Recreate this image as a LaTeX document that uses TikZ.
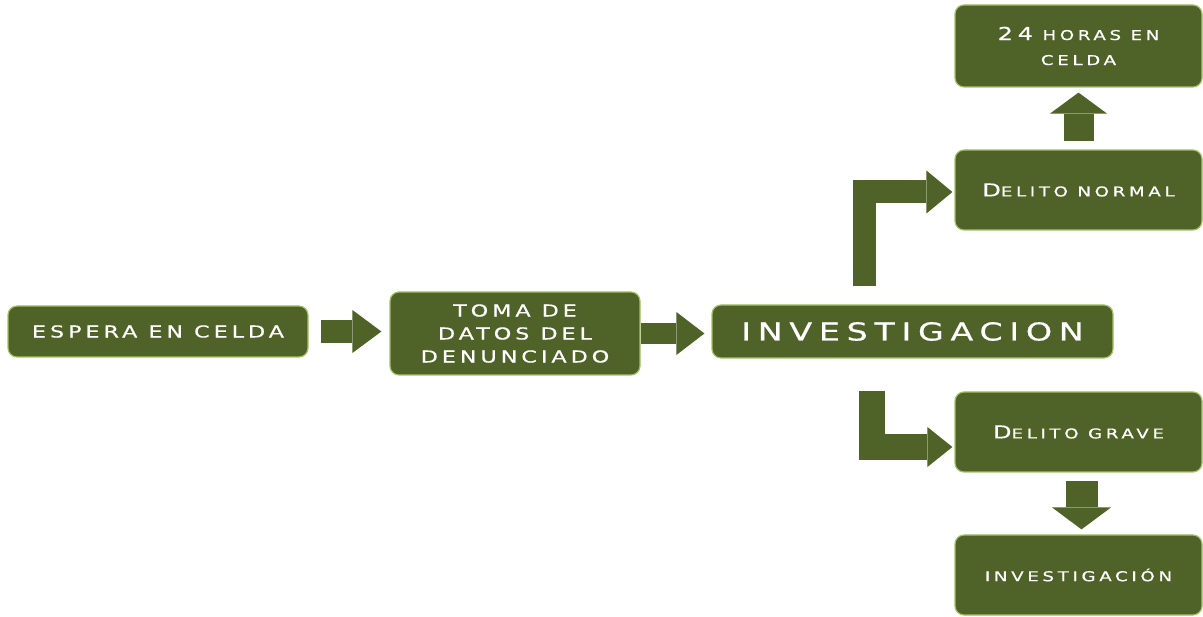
\documentclass[tikz,border=0pt]{standalone}
\usepackage{fontspec}
\usetikzlibrary{arrows.meta}
\newfontfamily\boxfont[LetterSpace=24,FakeStretch=1.35,FakeBold=0.6]{DejaVu Sans}
\newfontfamily\bigfont[LetterSpace=27,FakeStretch=1.35,FakeBold=0.6]{DejaVu Sans}
\newfontfamily\scfont[LetterSpace=27,FakeStretch=1.35,FakeBold=0.6]{DejaVu Sans}
\definecolor{olivebox}{HTML}{4F6228}
\definecolor{rimgreen}{HTML}{A3C264}
\newcommand\capbig[1]{{\fontsize{17.8}{25}\selectfont #1}}
\tikzset{
  box/.style={draw=rimgreen, line width=1.2pt, fill=olivebox, rounded corners=9pt,
    text=white, align=center, inner sep=0pt},
  mainfont/.style={font=\boxfont\fontsize{16.5}{23}\selectfont},
  smallcaps/.style={font=\scfont\fontsize{13.5}{25}\selectfont},
  barrow/.style={draw=olivebox, line join=miter},
}
\begin{document}
\begin{tikzpicture}[x=1pt,y=-1pt]
\useasboundingbox (0,0) rectangle (1203,617);
% boxes
\node[box, mainfont, minimum width=300pt, minimum height=51pt] (espera) at (158,331.5) {ESPERA EN CELDA};
\node[box, mainfont, minimum width=250pt, minimum height=83pt] (toma) at (515,333.5) {TOMA DE\\DATOS DEL\\DENUNCIADO};
\node[box, font=\bigfont\fontsize{24.7}{28}\selectfont, minimum width=401pt, minimum height=53pt] (inv) at (912.5,331.5) {INVESTIGACION};
\node[box, smallcaps, minimum width=247pt, minimum height=82pt] (horas) at (1078.5,46) {\capbig{24} HORAS EN\\CELDA};
\node[box, smallcaps, minimum width=247pt, minimum height=80pt] (normal) at (1078.5,190) {\capbig{D}ELITO NORMAL};
\node[box, smallcaps, minimum width=247pt, minimum height=80pt] (grave) at (1078.5,432) {\capbig{D}ELITO GRAVE};
\node[box, smallcaps, minimum width=247pt, minimum height=80pt] (invest) at (1078.5,575) {INVESTIGACIÓN};
% block arrows
\draw[barrow, line width=23pt, -{Triangle[length=29pt,width=43pt,line width=0pt]}]
  ([xshift=12pt]espera.east) -- ([xshift=-8pt]espera.east -| toma.west);
\draw[barrow, line width=21pt, -{Triangle[length=28pt,width=43pt,line width=0pt]}]
  (toma.east) -- ([xshift=-7pt]toma.east -| inv.west);
\draw[barrow, line width=30pt, -{Triangle[length=21pt,width=57pt,line width=0pt]}]
  ([yshift=8pt]normal.north) -- ([yshift=-5pt]horas.south);
\draw[barrow, line width=32pt, -{Triangle[length=22pt,width=59pt,line width=0pt]}]
  ([xshift=3pt,yshift=-8pt]grave.south) -- ([xshift=3pt,yshift=5pt]invest.north);
\draw[barrow, line width=23pt, -{Triangle[length=26pt,width=43pt,line width=0pt]}]
  ([xshift=-48pt,yshift=18pt]inv.north) |- ([xshift=-2pt,yshift=-2pt]normal.west);
\draw[barrow, line width=26pt, -{Triangle[length=25pt,width=40pt,line width=0pt]}]
  ([xshift=-40.5pt,yshift=-32pt]inv.south) |- ([xshift=-2pt,yshift=-15pt]grave.west);
\end{tikzpicture}
\end{document}
